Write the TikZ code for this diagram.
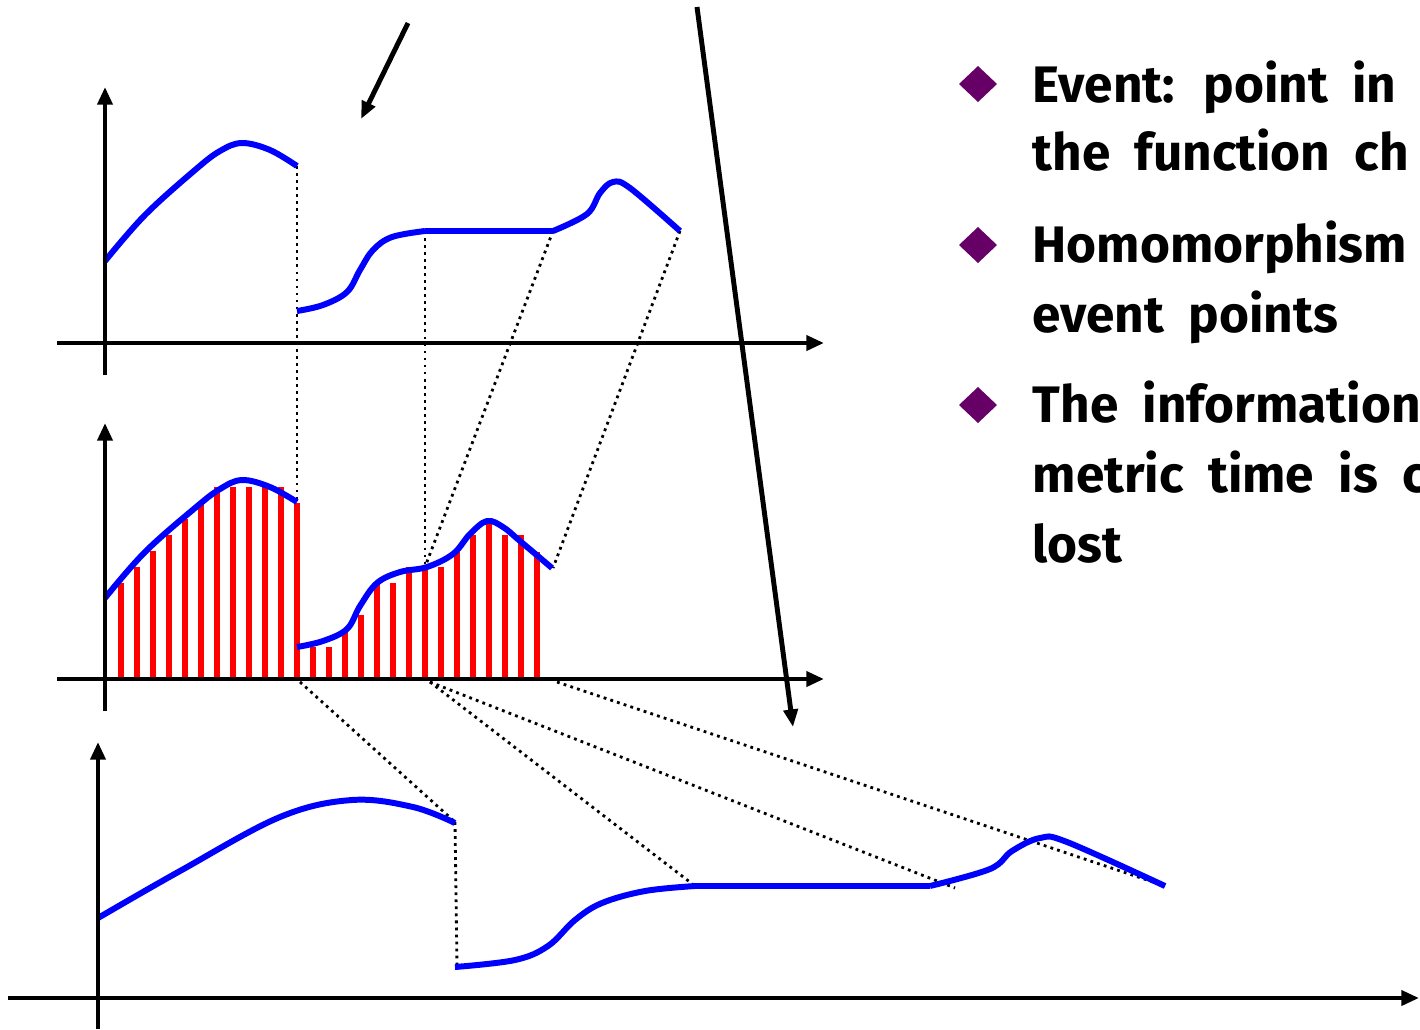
\documentclass[tikz,border=0pt]{standalone}
\usepackage{fontspec}
\setmainfont[WordSpace=2.0]{Fira Sans}
\usetikzlibrary{arrows.meta}
\definecolor{bpurple}{HTML}{660066}
\begin{document}
\begin{tikzpicture}[x=0.01cm,y=-0.01cm,
  axis/.style={line width=1.2pt,-{Triangle[length=5pt,width=4.2pt]}},
  fcurve/.style={blue,line width=1.7pt},
  bar/.style={red,line width=1.45pt},
  dots/.style={line width=0.8pt,dash pattern=on 0.8pt off 1.2pt},
  pointer/.style={line width=1.4pt,-{Triangle[length=5pt,width=4pt]}},
  bulletmark/.style={fill=bpurple},
  btext/.style={anchor=base west,inner sep=0pt,font=\fontsize{14.6}{18}\selectfont\bfseries}]
\useasboundingbox (0,0) rectangle (1420,1029);

% ---------- middle plot: sample bars ----------
\foreach \x/\t in {121/583,137/567,153/551,169/535,185/519,201/503,217/487,233/487,
  249/487,265/487,281/487,297/503,313/647,329/647,345/632,361/615,377/583,393/583,
  409/567,425/567,441/567,457/552,473/535,489/519,505/535,521/535,537/552}
  \draw[bar] (\x,679) -- (\x,\t);

% ---------- event coordinates ----------
\coordinate (t1) at (297,166);  \coordinate (t2) at (425,231);
\coordinate (t3) at (553,231);  \coordinate (t4) at (680,231);
\coordinate (m1) at (297,500);  \coordinate (m2) at (425,567);
\coordinate (m3) at (553,568);
\coordinate (a1) at (300,682);  \coordinate (a2) at (430,682);
\coordinate (a3) at (557,682);
\coordinate (b1) at (455,822);  \coordinate (b1l) at (457,966);
\coordinate (b2) at (695,886);  \coordinate (b3) at (955,888);
\coordinate (b4) at (1165,886);

% ---------- dotted correspondences ----------
\draw[dots] (t1) -- (m1);
\draw[dots] (t2) -- (m2);
\draw[dots] (t3) -- (m2);
\draw[dots] (t4) -- (m3);
\draw[dots] (a1) -- (b1);
\draw[dots] (b1) -- (b1l);
\draw[dots] (a2) -- (b2);
\draw[dots] (a2) -- (b3);
\draw[dots] (a3) -- (b4);

% ---------- top plot ----------
\draw[fcurve] plot[smooth,tension=0.6] coordinates {(105,261) (145,215) (195,170) (220,151) (242,143) (270,150) (297,166)};
\draw[fcurve] plot[smooth,tension=0.6] coordinates {(297,311) (323,305) (347,292) (360,270) (373,250) (392,237) (425,231)};
\draw[fcurve] (425,231) -- (553,231);
\draw[fcurve] plot[smooth,tension=0.6] coordinates {(553,231) (587,214) (600,193) (613,182) (630,188) (680,231)};
\draw[axis] (105,375) -- (105,87);
\draw[axis] (57,343) -- (824,343);

% ---------- middle plot ----------
\draw[fcurve] plot[smooth,tension=0.6] coordinates {(105,598) (145,552) (195,508) (220,489) (242,480) (270,487) (297,502)};
\draw[fcurve] plot[smooth,tension=0.6] coordinates {(297,647) (323,641) (347,629) (360,606) (377,583) (400,572) (427,567) (453,554) (470,534) (487,521) (503,527) (520,541) (552,568)};
\draw[axis] (105,711) -- (105,423);
\draw[axis] (57,679) -- (824,679);

% ---------- bottom plot ----------
\draw[fcurve] plot[smooth,tension=0.6] coordinates {(98,918) (180,871) (280,817) (352,800) (413,807) (455,823)};
\draw[fcurve] plot[smooth,tension=0.6] coordinates {(455,967) (515,960) (548,946) (575,920) (602,903) (645,891) (695,886)};
\draw[fcurve] (695,886) -- (930,886);
\draw[fcurve] plot[smooth,tension=0.6] coordinates {(930,886) (990,869) (1012,851) (1040,838) (1067,842) (1165,886)};
\draw[axis] (98,1029) -- (98,742);
\draw[axis] (8,998) -- (1419,998);

% ---------- pointers ----------
\draw[pointer] (408,23) -- (361,119);
\draw[pointer] (697,7) -- (793,727);

% ---------- bullet text ----------
\begin{scope}
\clip (0,0) rectangle (1420,1029);
\fill[bulletmark] (978,66) -- (997,84) -- (978,102) -- (959,84) -- cycle;
\fill[bulletmark] (978,227) -- (997,245) -- (978,263) -- (959,245) -- cycle;
\fill[bulletmark] (978,387) -- (997,405) -- (978,423) -- (959,405) -- cycle;
\node[btext] (l1) at (1032,102) {Event: point in};
\node[btext] (l2) at (1032,170) {the function ch};
\node[btext] (l3) at (1032,262) {Homomorphism};
\node[btext] (l4) at (1032,332) {event points};
\node[btext] (l5) at (1032,422) {The information};
\node[btext] (l6) at (1032,492) {metric time is c};
\node[btext] (l7) at (1032,562) {lost};
\end{scope}
\end{tikzpicture}
\end{document}
